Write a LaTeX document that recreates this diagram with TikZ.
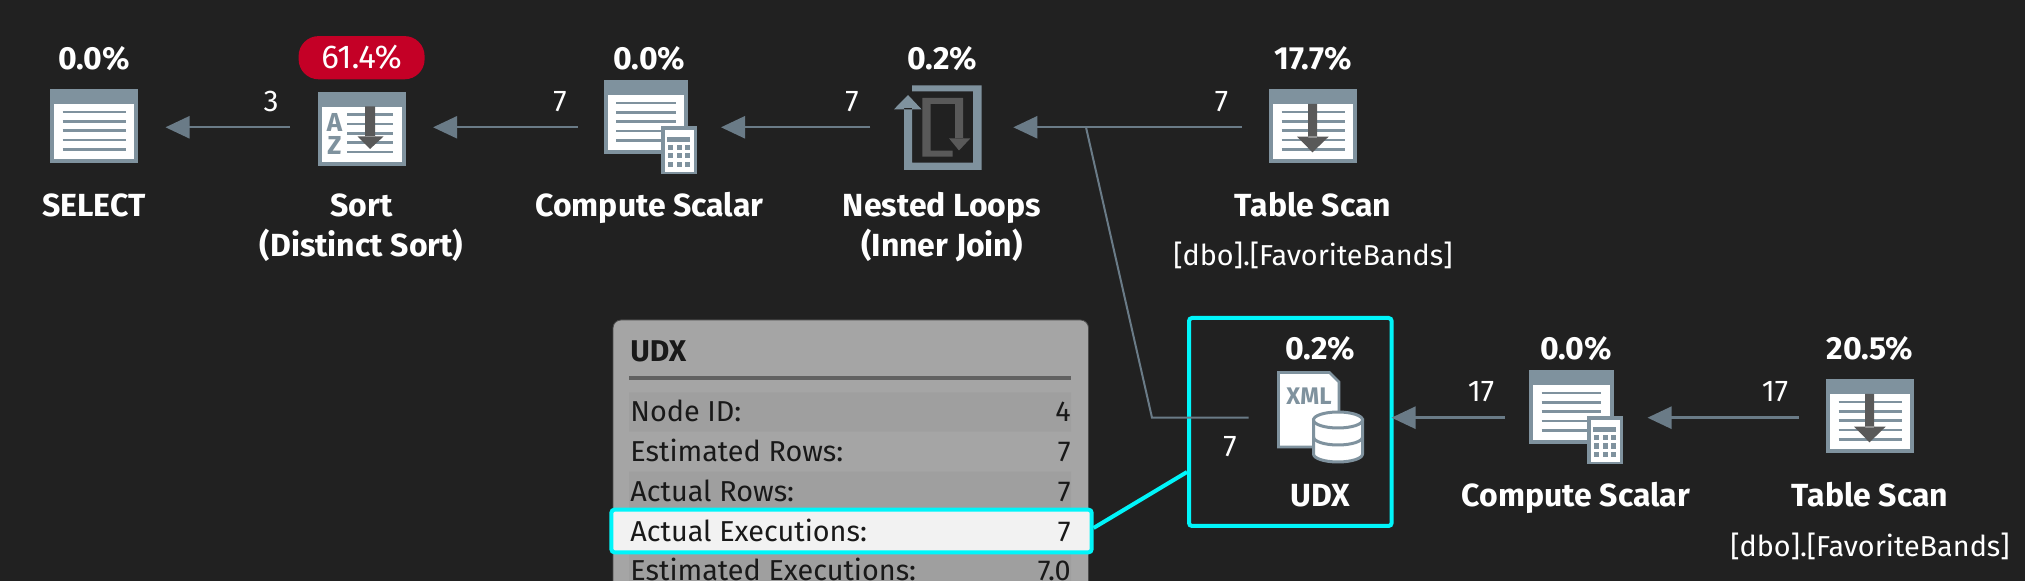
\documentclass[tikz,border=0pt]{standalone}
\usepackage{fontspec}
\usepackage{xcolor}
\usetikzlibrary{arrows.meta, positioning, calc}
\setmainfont{Fira Sans}
\definecolor{planbg}{RGB}{33, 33, 33}
\definecolor{iconslate}{RGB}{127, 146, 158}
\definecolor{flowslate}{RGB}{106, 123, 135}
\definecolor{icondark}{RGB}{89, 89, 89}
\definecolor{hicyan}{RGB}{0, 245, 250}
\definecolor{hotred}{RGB}{196, 0, 38}
\definecolor{panelgrey}{RGB}{165, 165, 165}
\definecolor{stripegrey}{RGB}{159, 159, 159}

\tikzset{
  pics/sheet/.style={code={
    \fill[iconslate] (0,0) rectangle (#1,74);
    \fill[white] (4,14.7) rectangle (#1-4,70);
    \foreach \ly in {22.7,32,41.4,50.7,60}
      \draw[iconslate, line width=1.4pt] (12.5,\ly) -- (#1-12.5,\ly);
  }},
  pics/scanarrow/.style={code={
    \fill[icondark] (39,14.7) rectangle (48,48) (28,47.4) -- (59.6,47.4) -- (43.5,63) -- cycle;
  }},
  pics/calcpad/.style={code={
    \fill[iconslate] (0,0) rectangle (36,48);
    \fill[white] (4,4) rectangle (33,45.5);
    \fill[iconslate] (6,10.5) rectangle (29,15.5);
    \foreach \bx in {7,15.7,24} \foreach \by in {18.3,26.7,35.3}
      \fill[iconslate] (\bx,\by) rectangle +(5.3,5.4);
  }}
}

\begin{document}
\begin{tikzpicture}[
  x=0.5pt, y=-0.5pt,
  opnode/.style={minimum width=71.5pt, minimum height=20pt, inner sep=0pt, outer sep=0pt},
  flow/.style={-{Triangle[length=12pt, width=11pt]}, line width=1.2pt, color=flowslate},
  oppct/.style={anchor=base, text=white, font=\fontsize{16}{18}\selectfont\bfseries},
  opname/.style={anchor=base, text=white, font=\fontsize{16}{18}\selectfont\bfseries},
  dbname/.style={anchor=base, text=white, font=\fontsize{14.4}{16}\selectfont},
  rowcount/.style={anchor=base, text=white, font=\fontsize{15}{16}\selectfont},
  rowtext/.style={text=black!90, font=\fontsize{14.4}{16}\selectfont}
]
\useasboundingbox (0,0) rectangle (2025,581);
\clip (0,0) rectangle (2025,581);
\fill[planbg] (0,0) rectangle (2025,581);

% operators, one row per branch of the plan
\node[opnode] (select) at (94,127.3) {};
\node[opnode] (sort) at (361.6,127.3) {};
\node[opnode] (compute) at (649.5,127.3) {};
\node[opnode] (loops) at (941.8,127.3) {};
\node[opnode] (scan) at (1313,127.3) {};
\node[opnode] (udx) at (1320,417.7) {};
\node[opnode] (computeb) at (1576,417.7) {};
\node[opnode] (scanb) at (1870,417.7) {};

% icons
\pic at (50,89.3) {sheet=88};
\pic at (317.5,92) {sheet=88};
\pic at (603.6,80.3) {sheet=84.5};
\pic at (661,126.3) {calcpad};
\pic at (1269,89.3) {sheet=88};
\pic at (1269,89.3) {scanarrow};
\pic at (1529,370.3) {sheet=84.5};
\pic at (1587,416.5) {calcpad};
\pic at (1826,379.3) {sheet=88};
\pic at (1826,379.3) {scanarrow};

% sort icon: the sheet's lines give way to the letters
\fill[white] (321.5,108) rectangle (347,161);
\foreach \ly in {114.7,124,133.3,142.3,152}
  \draw[iconslate, line width=1.3pt] (348,\ly) -- (393,\ly);
\node[text=iconslate, inner sep=0pt, font=\fontsize{13}{13}\selectfont\bfseries] (sortA) at (334.5,122) {A};
\node[text=iconslate, inner sep=0pt, font=\fontsize{13}{13}\selectfont\bfseries] (sortZ) at (334.5,145) {Z};
\fill[icondark] (365,106.5) rectangle (375,137) (357.5,136.5) -- (383.5,136.5) -- (370,149) -- cycle;

% nested loops icon
\fill[iconslate] (912,85.3) rectangle (981.6,91.5) (973,85.3) rectangle (981.6,170)
  (904,162.7) rectangle (981.6,170) (904,108) rectangle (912,170)
  (894,109.3) -- (908,95) -- (921.5,109.3) -- cycle;
\fill[icondark] (922.4,98) rectangle (930.6,156.7) (922.4,98) rectangle (963,104)
  (955,98) rectangle (963,139) (922.4,150.7) rectangle (952.5,156.7)
  (949,138.3) -- (970.4,138.3) -- (959,150.5) -- cycle;

% xml icon
\draw[iconslate, line width=1.3pt, fill=white] (1278.5,372.5) -- (1329.5,372.5) -- (1339,382) -- (1339,447) -- (1278.5,447) -- cycle;
\node[text=iconslate, inner sep=0pt, font=\fontsize{12}{12}\selectfont\bfseries] (xmltag) at (1309,396.5) {XML};
\draw[iconslate, line width=1.5pt, fill=white] (1313.5,420) -- (1313.5,454)
  arc[start angle=180, end angle=0, x radius=24.5, y radius=8] -- (1362.5,420) -- cycle;
\draw[iconslate, line width=1.5pt, fill=white] (1338,420) ellipse [x radius=24.5, y radius=8];
\draw[iconslate, line width=1.5pt] (1313.5,437) arc[start angle=180, end angle=0, x radius=24.5, y radius=8];

% tooltip
\node[fill=panelgrey, draw=black!70, line width=0.4pt, rounded corners=4pt, minimum width=237.75pt, minimum height=150pt, inner sep=0pt] (tippanel) at (850.75,470) {};
\node[anchor=base west, inner sep=0pt, text=black!90, font=\fontsize{15}{16}\selectfont\bfseries] (tiptitle) at (630,361.5) {UDX};
\fill[black!62] (629,376) rectangle (1071,380);
\fill[stripegrey] (629,392.3) rectangle (1071,431.7) (629,471.7) rectangle (1071,508) (629,554) rectangle (1071,581);
\node[draw=hicyan, fill=white!95!black, line width=2pt, rounded corners=1.5pt, minimum width=240.1pt, minimum height=21.3pt, inner sep=0pt] (tiphigh) at (851.5,531) {};
\foreach \rowid/\rowlabel/\rowvalue/\rowbase in {a/Node ID:/4/421.7, b/Estimated Rows:/7/461.7, c/Actual Rows:/7/501.7, d/Actual Executions:/7/541.7, e/Estimated Executions:/7.0/580.5} {
  \node[rowtext, anchor=base west, inner sep=0pt] (row\rowid) at (630,\rowbase) {\rowlabel};
  \node[rowtext, anchor=base east, inner sep=0pt] (val\rowid) at (1071,\rowbase) {\rowvalue};
}

% highlight
\node[draw=hicyan, line width=2pt, rounded corners=1.5pt, minimum width=101.3pt, minimum height=104pt, inner sep=0pt] (udxbox) at (1290.3,422) {};
\draw[hicyan, line width=2pt] ([yshift=1.5pt]tiphigh.east) -- ([yshift=-25pt]udxbox.west);

% connectors
\draw[flow] (sort) -- (select);
\draw[flow] (compute) -- (sort);
\draw[flow] (loops) -- (compute);
\draw[flow] (scan) -- (loops);
\draw[flow] (computeb) -- (udx);
\draw[flow] (scanb) -- (computeb);
\coordinate (joint) at (1086,127.3);
\coordinate (bend) at (1152,417.7);
\draw[flowslate, line width=1pt] (udx) -- (bend) -- (joint);

% labels
\node[oppct] (selectpct) at (94,70) {0.0\%};
\node[fill=hotred, rounded corners=10pt, minimum width=63pt, minimum height=21.6pt, inner sep=0pt, text=white, font=\fontsize{16.5}{18}\selectfont] (sortpct) at (361.6,57.7) {61.4\%};
\node[oppct] (computepct) at (649.5,70) {0.0\%};
\node[oppct] (loopspct) at (942,70) {0.2\%};
\node[oppct] (scanpct) at (1313,70) {17.7\%};
\node[oppct] (udxpct) at (1320,360) {0.2\%};
\node[oppct] (computebpct) at (1576,360) {0.0\%};
\node[oppct] (scanbpct) at (1870,360) {20.5\%};

\node[opname] (selectname) at (94,217) {SELECT};
\node[opname] (sortname) at (361.6,217) {Sort};
\node[opname] (sortsub) at (361.6,257) {(Distinct Sort)};
\node[opname] (computename) at (649.5,217) {Compute Scalar};
\node[opname] (loopsname) at (942,217) {Nested Loops};
\node[opname] (loopssub) at (942,257) {(Inner Join)};
\node[opname] (scanname) at (1313,217) {Table Scan};
\node[dbname] (scandb) at (1313,266) {[dbo].[FavoriteBands]};
\node[opname] (udxname) at (1320,507) {UDX};
\node[opname] (computebname) at (1576,507) {Compute Scalar};
\node[opname] (scanbname) at (1870,507) {Table Scan};
\node[dbname] (scanbdb) at (1870,557) {[dbo].[FavoriteBands]};

\node[rowcount] (count1) at (271,111.7) {3};
\node[rowcount] (count2) at (560,111.7) {7};
\node[rowcount] (count3) at (852,111.7) {7};
\node[rowcount] (count4) at (1221.5,111.7) {7};
\node[rowcount] (count5) at (1230,456.7) {7};
\node[rowcount] (count6) at (1481,401.7) {17};
\node[rowcount] (count7) at (1775,401.7) {17};

\end{tikzpicture}
\end{document}
